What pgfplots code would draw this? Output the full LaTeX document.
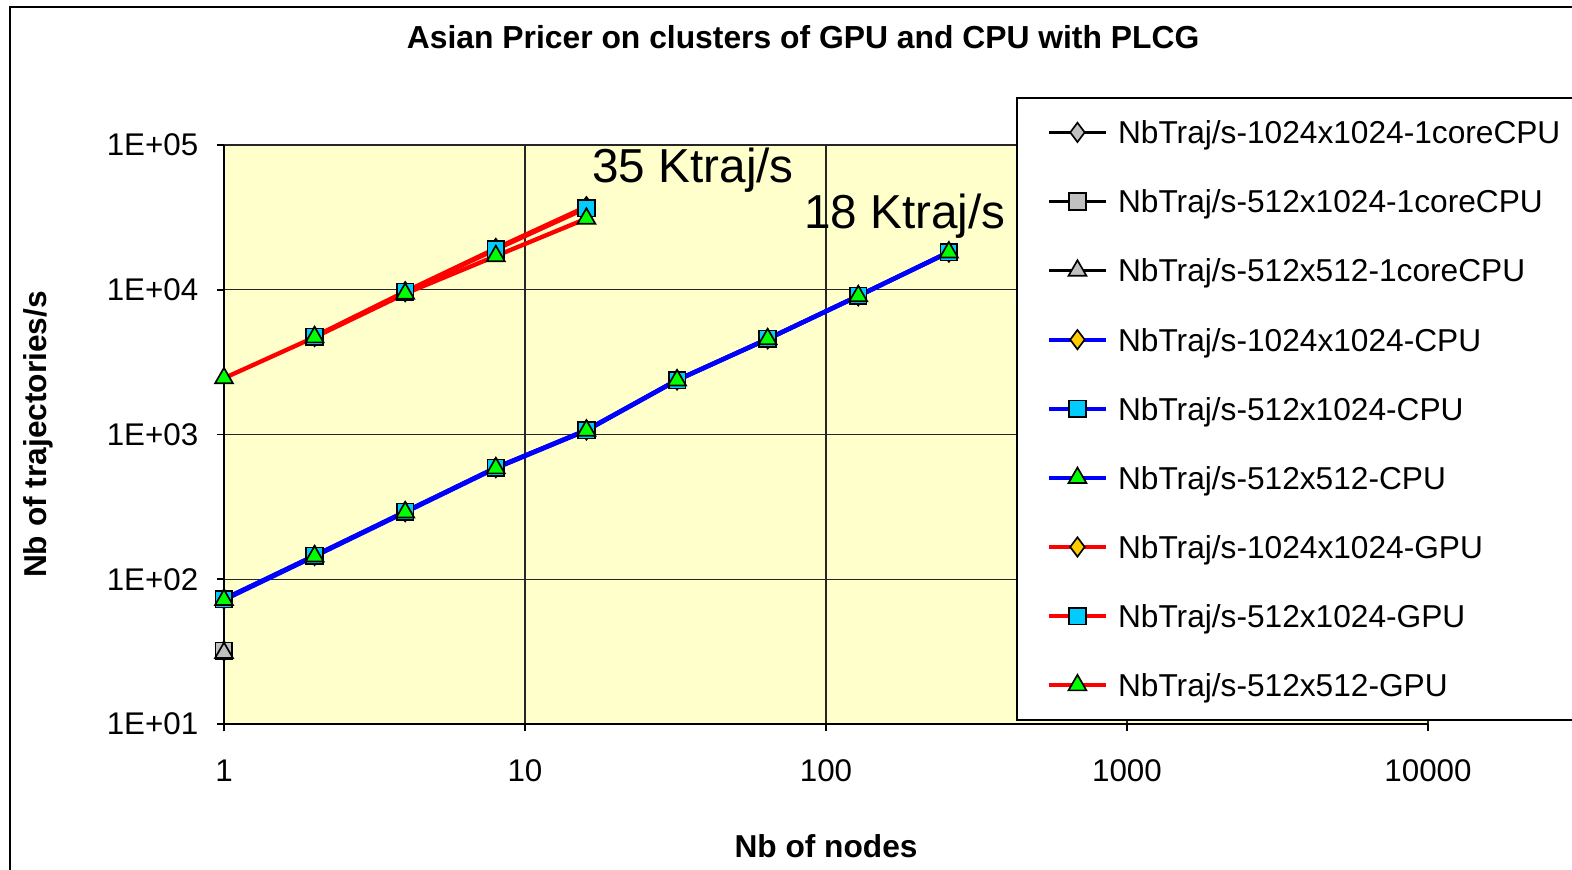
\documentclass[border=0pt]{standalone}
\usepackage{fontspec}
\setmainfont{Liberation Sans}
\usepackage{pgfplots}
\pgfplotsset{compat=1.18}

\definecolor{plotbg}{HTML}{FFFFCC}
\definecolor{mkgray}{HTML}{C0C0C0}
\definecolor{mkcyan}{HTML}{00CCFF}
\definecolor{mkgreen}{HTML}{00FF00}
\definecolor{mkorange}{HTML}{FFCC00}

\newcommand{\lgd}[1]{\makebox[136pt][l]{\hspace{1pt}#1}}

\begin{document}
\begin{tikzpicture}
\useasboundingbox (-67.2pt,-43.5pt) rectangle (404.4pt,217.2pt);
\clip (-67.2pt,-43.5pt) rectangle (404.4pt,217.2pt);
% outer chart frame
\draw[black, line width=0.7pt] (-64.2pt,-60pt) rectangle (420pt,215.1pt);

\begin{axis}[
    at={(0,0)}, anchor=south west,
    scale only axis,
    width=361.2pt, height=173.7pt,
    xmode=log, ymode=log,
    xmin=1, xmax=10000, ymin=10, ymax=100000,
    xtick={1,10,100,1000,10000},
    xticklabels={1,10,100,1000,10000},
    ytick={10,100,1000,10000,100000},
    yticklabels={1E+01,1E+02,1E+03,1E+04,1E+05},
    xminorticks=false, yminorticks=false,
    axis lines*=left,
    axis line style={black, line width=0.6pt},
    axis background/.style={fill=plotbg, draw=gray, line width=0.6pt},
    grid=major,
    major grid style={black!85, line width=0.45pt},
    tick align=outside,
    major tick length=2.2pt,
    tick style={black, line width=0.5pt},
    ticklabel style={font=\fontsize{9.4}{11}\selectfont},
    xticklabel style={yshift=-5pt},
    yticklabel style={xshift=-2pt},
    xlabel={\textbf{Nb of nodes}},
    ylabel={\textbf{Nb of trajectories/s}},
    label style={font=\fontsize{9.5}{11}\selectfont},
    xlabel style={at={(0.5,0)}, anchor=center, yshift=-36.6pt},
    ylabel style={at={(-0.1545,0.5)}, anchor=center},
    title={\textbf{Asian Pricer on clusters of GPU and CPU with PLCG}},
    title style={font=\fontsize{9.55}{11}\selectfont, at={(0.481,1)}, anchor=center, yshift=26.4pt},
    clip=false,
    legend cell align=left,
    legend style={
        at={(0.6578,1.0829)}, anchor=north west,
        draw=black, fill=white, line width=0.5pt,
        font=\fontsize{9.5}{11}\selectfont,
        inner xsep=9pt, inner ysep=0pt,
        row sep=0pt,
        nodes={text height=13.77pt, text depth=6.96pt, inner ysep=0pt, inner xsep=2pt},
    },
    every axis plot/.append style={line width=1.3pt},
]

% 1 core CPU (single points)
\addplot[black, line width=0.9pt, mark=diamond*, mark size=2.9pt, mark options={fill=mkgray, draw=black, line width=0.5pt}]
    coordinates {(1,32)};
\addlegendentry{\lgd{NbTraj/s-1024x1024-1coreCPU}}
\addplot[black, line width=0.9pt, mark=square*, mark size=2.5pt, mark options={fill=mkgray, draw=black, line width=0.5pt}]
    coordinates {(1,32)};
\addlegendentry{\lgd{NbTraj/s-512x1024-1coreCPU}}
\addplot[black, line width=0.9pt, mark=triangle*, mark size=3.1pt, mark options={fill=mkgray, draw=black, line width=0.5pt}]
    coordinates {(1,31)};
\addlegendentry{\lgd{NbTraj/s-512x512-1coreCPU}}

% CPU clusters
\addplot[blue, mark=diamond*, mark size=2.9pt, mark options={fill=mkorange, draw=black, line width=0.5pt}]
    coordinates {(1,73) (2,146) (4,293) (8,590) (16,1075) (32,2380) (64,4580) (128,9080) (256,18200)};
\addlegendentry{\lgd{NbTraj/s-1024x1024-CPU}}
\addplot[blue, mark=square*, mark size=2.5pt, mark options={fill=mkcyan, draw=black, line width=0.5pt}]
    coordinates {(1,73) (2,145) (4,293) (8,590) (16,1070) (32,2375) (64,4570) (128,9060) (256,18200)};
\addlegendentry{\lgd{NbTraj/s-512x1024-CPU}}
\addplot[blue, mark=triangle*, mark size=3.1pt, mark options={fill=mkgreen, draw=black, line width=0.5pt}]
    coordinates {(1,72) (2,144) (4,290) (8,585) (16,1065) (32,2370) (64,4560) (128,9040) (256,18150)};
\addlegendentry{\lgd{NbTraj/s-512x512-CPU}}

% GPU clusters
\addplot[red, mark=diamond*, mark size=2.9pt, mark options={fill=mkorange, draw=black, line width=0.5pt}]
    coordinates {(2,4750) (4,9700) (8,19300) (16,37500)};
\addlegendentry{\lgd{NbTraj/s-1024x1024-GPU}}
\addplot[red, mark=square*, mark size=2.5pt, mark options={fill=mkcyan, draw=black, line width=0.5pt}]
    coordinates {(2,4720) (4,9660) (8,19000) (16,36700)};
\addlegendentry{\lgd{NbTraj/s-512x1024-GPU}}
\addplot[red, mark=triangle*, mark size=3.1pt, mark options={fill=mkgreen, draw=black, line width=0.5pt}]
    coordinates {(1,2450) (2,4700) (4,9400) (8,17100) (16,31000)};
\addlegendentry{\lgd{NbTraj/s-512x512-GPU}}

\node[font=\fontsize{14.3}{16}\selectfont] at (axis cs:36.2,67100) {35 Ktraj/s};
\node[font=\fontsize{14.3}{16}\selectfont] at (axis cs:183,32400) {18 Ktraj/s};
\end{axis}
\end{tikzpicture}
\end{document}
